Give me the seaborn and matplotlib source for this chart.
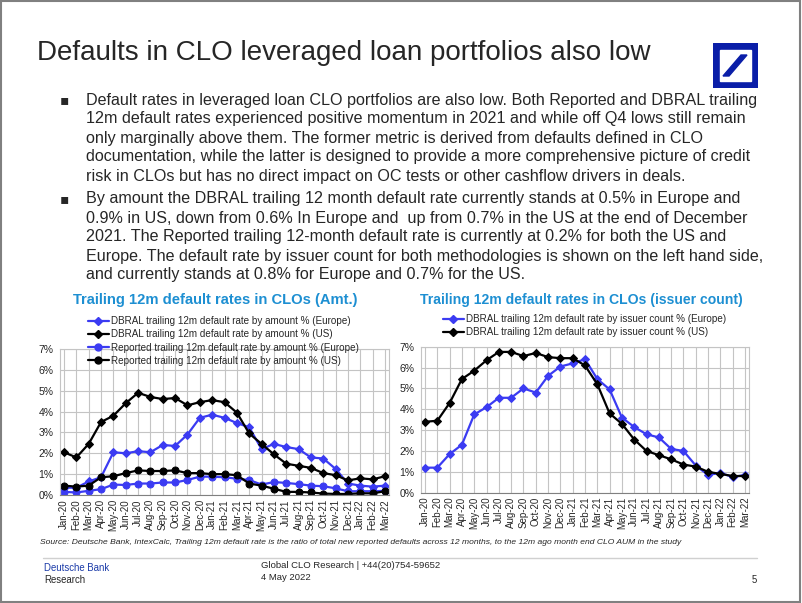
import numpy as np
import pandas as pd
import seaborn as sns
import matplotlib.pyplot as plt
from matplotlib.patches import Rectangle, Polygon
from matplotlib.lines import Line2D
from matplotlib.ticker import FuncFormatter

months = ['Jan-20', 'Feb-20', 'Mar-20', 'Apr-20', 'May-20', 'Jun-20', 'Jul-20',
          'Aug-20', 'Sep-20', 'Oct-20', 'Nov-20', 'Dec-20', 'Jan-21', 'Feb-21',
          'Mar-21', 'Apr-21', 'May-21', 'Jun-21', 'Jul-21', 'Aug-21', 'Sep-21',
          'Oct-21', 'Nov-21', 'Dec-21', 'Jan-22', 'Feb-22', 'Mar-22']

# trailing 12m default rate by amount, %
dbral_eu_amt = [0.35, 0.35, 0.65, 0.85, 2.05, 2.0, 2.1, 2.05, 2.4, 2.35, 2.9, 3.7, 3.85,
                3.7, 3.45, 3.25, 2.2, 2.45, 2.3, 2.2, 1.8, 1.75, 1.25, 0.55, 0.45, 0.4, 0.45]
dbral_us_amt = [2.05, 1.8, 2.45, 3.5, 3.8, 4.4, 4.9, 4.7, 4.6, 4.65, 4.3, 4.45, 4.55,
                4.45, 3.95, 2.95, 2.45, 1.95, 1.5, 1.4, 1.3, 1.05, 0.95, 0.7, 0.8, 0.75, 0.9]
rep_eu_amt = [0.15, 0.12, 0.2, 0.28, 0.5, 0.48, 0.55, 0.55, 0.6, 0.6, 0.72, 0.88, 0.88,
              0.85, 0.78, 0.72, 0.5, 0.62, 0.58, 0.52, 0.45, 0.42, 0.32, 0.18, 0.18, 0.18, 0.2]
rep_us_amt = [0.45, 0.4, 0.45, 0.85, 0.9, 1.05, 1.18, 1.15, 1.15, 1.18, 1.05, 1.05, 1.0,
              1.0, 0.95, 0.55, 0.45, 0.3, 0.15, 0.15, 0.12, 0.07, 0.05, 0.05, 0.08, 0.08, 0.18]

# trailing 12m default rate by issuer count, %
dbral_eu_cnt = [1.2, 1.2, 1.85, 2.3, 3.75, 4.1, 4.55, 4.55, 5.0, 4.8, 5.6, 6.05, 6.2,
                6.4, 5.45, 4.95, 3.6, 3.15, 2.8, 2.65, 2.1, 2.0, 1.3, 0.85, 0.95, 0.75, 0.85]
dbral_us_cnt = [3.4, 3.45, 4.3, 5.45, 5.85, 6.35, 6.75, 6.75, 6.55, 6.7, 6.5, 6.45, 6.45,
                6.1, 5.2, 3.8, 3.3, 2.55, 2.0, 1.8, 1.6, 1.35, 1.25, 1.0, 0.9, 0.8, 0.8]

title = 'Defaults in CLO leveraged loan portfolios also low'
bullet1 = ['Default rates in leveraged loan CLO portfolios are also low. Both Reported and DBRAL trailing',
           '12m default rates experienced positive momentum in 2021 and while off Q4 lows still remain',
           'only marginally above them. The former metric is derived from defaults defined in CLO',
           'documentation, while the latter is designed to provide a more comprehensive picture of credit',
           'risk in CLOs but has no direct impact on OC tests or other cashflow drivers in deals.']
bullet2 = ['By amount the DBRAL trailing 12 month default rate currently stands at 0.5% in Europe and',
           '0.9% in US, down from 0.6% In Europe and  up from 0.7% in the US at the end of December',
           '2021. The Reported trailing 12-month default rate is currently at 0.2% for both the US and',
           'Europe. The default rate by issuer count for both methodologies is shown on the left hand side,',
           'and currently stands at 0.8% for Europe and 0.7% for the US.']
source = ('Source: Deutsche Bank, IntexCalc, Trailing 12m default rate is the ratio of total new reported '
          'defaults across 12 months, to the 12m ago month end CLO AUM in the study')

sns.set_style('white')
plt.rcParams['font.family'] = ['Liberation Sans', 'DejaVu Sans']

BLUE = '#3b3bf2'
BLACK = '#000000'
TBLUE = '#1d8fd2'
W, H = 802, 603


def fx(px):
    return px / W


def fy(py):
    return 1 - py / H


fig = plt.figure(figsize=(8.02, 6.03), dpi=100)

# slide frame
fig.add_artist(Rectangle((0.001, 0.001), 0.997, 0.997, transform=fig.transFigure,
                         fill=False, edgecolor='#808080', lw=1.5))

fig.text(fx(37), fy(53), title, fontsize=20, va='center', ha='left')

# logo
lg = fig.add_axes([fx(713), fy(88), fx(758) - fx(713), (88 - 43) / H])
lg.set_xlim(0, 45)
lg.set_ylim(0, 45)
lg.axis('off')
lg.add_patch(Rectangle((0, 0), 45, 45, color='#0a1ea8'))
lg.add_patch(Rectangle((7, 7), 31, 31, color='white'))
lg.add_patch(Polygon([(10, 12), (16, 12), (34, 33), (28, 33)], color='#0a1ea8'))

# body text
y = 100
for block in (bullet1, bullet2):
    fig.text(fx(64), fy(y), '\u25aa', fontsize=10, family=['DejaVu Sans'], va='center', ha='center')
    for line in block:
        fig.text(fx(86), fy(y), line, fontsize=11.6, va='center', ha='left')
        y += 19
    y += 4


def draw_panel(ax, series, ctitle, cx, tsize, legend_xy):
    x = np.arange(len(months))
    for vals, color, marker, ms, label in series:
        sns.lineplot(x=x, y=vals, ax=ax, color=color, marker=marker, markersize=ms,
                     markeredgecolor=color, lw=1.6, label=label, legend=False)
    ax.set_xlim(-0.3, len(months) - 0.7)
    ax.set_ylim(0, 7)
    ax.set_yticks(range(8))
    ax.yaxis.set_major_formatter(FuncFormatter(lambda v, p: f'{v:.0f}%'))
    ax.set_xticks(x)
    ax.set_xticklabels(months, rotation=90, fontsize=7)
    ax.tick_params(axis='y', labelsize=7.5, length=0, pad=5)
    ax.tick_params(axis='x', length=0, pad=3)
    ax.grid(True, color='#c4c4c4', lw=0.8)
    for s in ax.spines.values():
        s.set_color('#c4c4c4')
        s.set_linewidth(0.8)
    ax.spines['bottom'].set_color('#808080')
    fig.text(fx(cx), fy(300), ctitle, fontsize=tsize, fontweight='bold', color=TBLUE,
             ha='center', va='center')
    handles = [Line2D([], [], color=c, marker=m, markersize=ms, lw=1.6) for _, c, m, ms, _ in series]
    labels = [s[4] for s in series]
    ax.legend(handles, labels, loc='upper left', bbox_to_anchor=(fx(legend_xy[0]), fy(legend_xy[1])),
              bbox_transform=fig.transFigure, frameon=False, fontsize=7.1, handlelength=2.1,
              handletextpad=0.25, labelspacing=0.33, borderpad=0, borderaxespad=0, numpoints=1)


ax1 = fig.add_axes([fx(60.3), fy(495), fx(388.7) - fx(60.3), 146 / H])
draw_panel(ax1, [
    (dbral_eu_amt, BLUE, 'D', 3.8, 'DBRAL trailing 12m default rate by amount % (Europe)'),
    (dbral_us_amt, BLACK, 'D', 3.8, 'DBRAL trailing 12m default rate by amount % (US)'),
    (rep_eu_amt, BLUE, 'o', 5, 'Reported trailing 12m default rate by amount % (Europe)'),
    (rep_us_amt, BLACK, 'o', 5, 'Reported trailing 12m default rate by amount % (US)'),
], 'Trailing 12m default rates in CLOs (Amt.)', 215, 10.6, (88, 316))

ax2 = fig.add_axes([fx(421.3), fy(492.7), fx(748.7) - fx(421.3), 146 / H])
draw_panel(ax2, [
    (dbral_eu_cnt, BLUE, 'D', 3.8, 'DBRAL trailing 12m default rate by issuer count % (Europe)'),
    (dbral_us_cnt, BLACK, 'D', 3.8, 'DBRAL trailing 12m default rate by issuer count % (US)'),
], 'Trailing 12m default rates in CLOs (issuer count)', 581, 10.1, (443, 314))

fig.text(fx(40), fy(543), source, fontsize=6.1, style='italic', va='center')

# footer
fig.add_artist(Line2D([fx(43), fx(757)], [fy(558), fy(558)], transform=fig.transFigure,
                      color='#d0d0d0', lw=1))
fig.text(fx(44), fy(568), 'Deutsche Bank', fontsize=6.9, color='#1a3aa8', va='center')
fig.text(fx(44), fy(580), 'Research', fontsize=6.9, va='center')
fig.text(fx(261), fy(566), 'Global CLO Research | +44(20)754-59652', fontsize=6.8, va='center')
fig.text(fx(261), fy(577), '4 May 2022', fontsize=6.8, va='center')
fig.text(fx(757), fy(580), '5', fontsize=6.9, va='center', ha='right')

fig.savefig('out.png', dpi=100)
